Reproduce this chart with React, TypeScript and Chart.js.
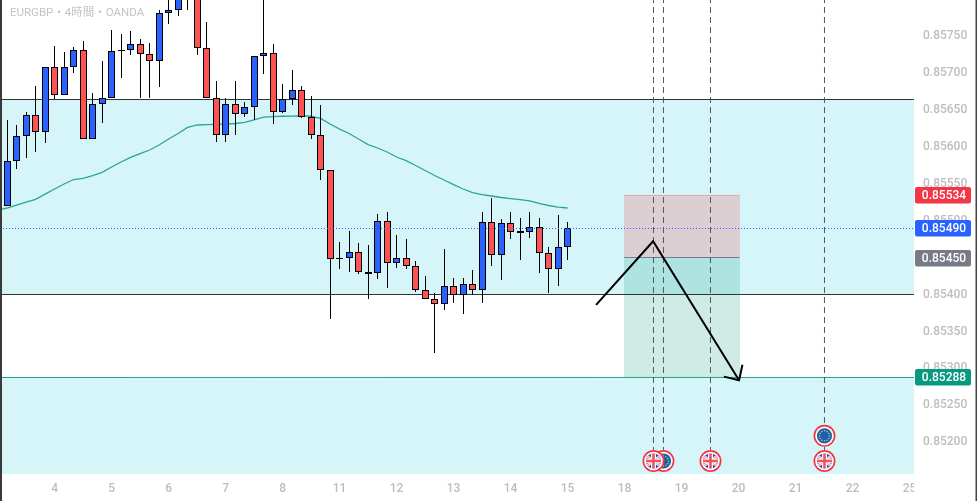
import React, { useEffect, useRef } from "react";
import { Chart, registerables, BarController } from "chart.js";

const opens = [0.8552,0.85581,0.85614,0.85642,0.85619,0.85708,0.85669,0.85707,0.85731,0.8561,0.85657,0.85665,0.85729,0.85731,0.85739,0.85725,0.85715,0.8578,0.85784,0.85825,0.85818,0.85733,0.85665,0.85616,0.85657,0.85644,0.85654,0.85722,0.85726,0.85646,0.85664,0.85677,0.8564,0.85615,0.85568,0.85448,0.8545,0.85458,0.8543,0.85429,0.85499,0.85442,0.8545,0.85439,0.85406,0.85394,0.85387,0.85412,0.854,0.85414,0.85406,0.85498,0.85454,0.85496,0.85486,0.85485,0.85491,0.85456,0.85434,0.85464];
const closes = [0.85581,0.85614,0.85642,0.85619,0.85708,0.85669,0.85707,0.85731,0.8561,0.85657,0.85665,0.85729,0.85731,0.85739,0.85725,0.85715,0.8578,0.85784,0.85809,0.85815,0.85733,0.85665,0.85616,0.85657,0.85644,0.85654,0.85722,0.85726,0.85646,0.85664,0.85677,0.8564,0.85615,0.85568,0.85448,0.8545,0.85458,0.8543,0.85428,0.85499,0.85442,0.8545,0.85439,0.85406,0.85394,0.85387,0.85412,0.854,0.85414,0.85406,0.85498,0.85454,0.85496,0.85484,0.85483,0.85491,0.85456,0.85434,0.85464,0.8549];
const highs = [0.85636,0.85629,0.85647,0.85682,0.85708,0.85736,0.85728,0.85735,0.85743,0.85672,0.85716,0.85757,0.85752,0.85756,0.85745,0.8574,0.85785,0.85811,0.85819,0.8583,0.85835,0.85768,0.85689,0.85665,0.85689,0.8566,0.85722,0.8581,0.85739,0.85685,0.85703,0.85682,0.85668,0.85656,0.85568,0.85471,0.85486,0.8547,0.85467,0.85509,0.85511,0.8548,0.85475,0.85445,0.85425,0.85402,0.85462,0.85422,0.85422,0.85433,0.85512,0.8553,0.85502,0.85512,0.85504,0.85512,0.85504,0.85464,0.85508,0.85498];
const lows = [0.8552,0.8557,0.85585,0.85593,0.85605,0.85664,0.85669,0.857,0.8561,0.8561,0.85632,0.85665,0.85693,0.85724,0.85666,0.85666,0.85681,0.85766,0.85777,0.85785,0.85723,0.85665,0.85606,0.85606,0.85615,0.8564,0.85636,0.85698,0.85631,0.85645,0.85656,0.85638,0.8561,0.85555,0.85367,0.85435,0.85431,0.85428,0.85394,0.85421,0.85409,0.85436,0.85434,0.85404,0.85394,0.85321,0.85379,0.85388,0.85373,0.854,0.85388,0.85439,0.8542,0.85475,0.85446,0.85477,0.85429,0.85402,0.85411,0.85447];
// Moving average: the first value sits one bar before the first candle.
const ema = [0.85514,0.855169,0.855209,0.85525,0.855286,0.855357,0.855426,0.855493,0.855554,0.85557,0.855608,0.855651,0.855723,0.855791,0.855854,0.855905,0.855953,0.85602,0.856101,0.856176,0.856259,0.856291,0.856297,0.8563,0.856304,0.856311,0.856326,0.856361,0.856396,0.856405,0.856409,0.856412,0.856416,0.856409,0.856381,0.856304,0.856236,0.856176,0.856101,0.856026,0.85598,0.855926,0.855858,0.855808,0.855743,0.855676,0.855608,0.855547,0.855486,0.855426,0.855378,0.855351,0.855331,0.855311,0.855295,0.855281,0.855264,0.85523,0.855203,0.855182,0.855169];

const dayTickIndex = [5,11,17,23,29,35,41,47,53,59,65,71,77,83,89,95];
const dayLabels = ["4","5","6","7","8","11","12","13","14","15","18","19","20","21","22","25"];
const priceTicks = [0.852,0.8525,0.853,0.8535,0.854,0.8545,0.855,0.8555,0.856,0.8565,0.857,0.8575];

const upperZone = [0.854, 0.856635];
const lowerZone = [0.851581, 0.852879];
const levels = [0.856635, 0.854];
const targetLevel = 0.852879;
const lastPriceLine = 0.854892;
const riskBox = [64.95, 77.1, 0.8545, 0.85534];
const rewardBox = [64.95, 77.1, 0.852879, 0.8545];
const pathX = [62, 68, 77.05];
const pathY = [0.85386, 0.85472, 0.85284];
const headX = [75.45, 77.05, 77.4];
const headY = [0.85289, 0.85284, 0.85305];
const eventIndex = [68.04, 69.09, 74.04, 86.04];
const eventTop = 0.85802;
const eventBottom = 0.8519;
const tagLabels = ["0.85534", "0.85490", "0.85450", "0.85288"];
const tagPrices = [0.85534, 0.85490, 0.8545, 0.85288];
const tagColors = ["#F23645", "#2962FF", "#787B86", "#089981"];
const titleText = "EURGBP・4時間・OANDA";

const FONT = 'Roboto, "Noto Sans CJK JP", sans-serif';
const GREY = "#BDBDBD";

class CrispBarController extends BarController {
  static id = "crispBar";
  static defaults = BarController.defaults;
  static overrides = BarController.overrides;
  updateElement(el: any, i: number, props: any, mode: any) {
    if (props.x !== undefined) props.x = Math.floor(props.x) + 0.5;
    if (props.y !== undefined && props.base !== undefined) {
      props.y = Math.round(props.y);
      props.base = Math.round(props.base);
      props.height = props.base - props.y;
    }
    super.updateElement(el, i, props, mode);
  }
}

Chart.register(...registerables, CrispBarController);

function ring(ctx: CanvasRenderingContext2D, x: number, y: number) {
  ctx.fillStyle = "#F23645";
  ctx.beginPath();
  ctx.arc(x, y, 11, 0, Math.PI * 2);
  ctx.fill();
  ctx.fillStyle = "#FFFFFF";
  ctx.beginPath();
  ctx.arc(x, y, 9.3, 0, Math.PI * 2);
  ctx.fill();
}

function ukIcon(ctx: CanvasRenderingContext2D, x: number, y: number) {
  ring(ctx, x, y);
  ctx.save();
  ctx.beginPath();
  ctx.arc(x, y, 7.6, 0, Math.PI * 2);
  ctx.clip();
  ctx.fillStyle = "#1F4FA8";
  ctx.fillRect(x - 9, y - 9, 18, 18);
  ctx.strokeStyle = "#FFFFFF";
  ctx.lineWidth = 2.4;
  ctx.beginPath();
  ctx.moveTo(x - 9, y - 7); ctx.lineTo(x + 9, y + 7);
  ctx.moveTo(x + 9, y - 7); ctx.lineTo(x - 9, y + 7);
  ctx.stroke();
  ctx.strokeStyle = "#F0525E";
  ctx.lineWidth = 0.9;
  ctx.stroke();
  ctx.fillStyle = "#FFFFFF";
  ctx.fillRect(x - 9, y - 2.5, 18, 5);
  ctx.fillRect(x - 2.5, y - 9, 5, 18);
  ctx.fillStyle = "#F0525E";
  ctx.fillRect(x - 9, y - 1.3, 18, 2.6);
  ctx.fillRect(x - 1.3, y - 9, 2.6, 18);
  ctx.restore();
}

function euIcon(ctx: CanvasRenderingContext2D, x: number, y: number) {
  ring(ctx, x, y);
  ctx.fillStyle = "#1C5FB0";
  ctx.beginPath();
  ctx.arc(x, y, 7.6, 0, Math.PI * 2);
  ctx.fill();
  ctx.fillStyle = "#D8C84A";
  for (let k = 0; k < 12; k++) {
    const a = (k * Math.PI) / 6;
    ctx.beginPath();
    ctx.arc(x + Math.cos(a) * 5, y + Math.sin(a) * 5, 0.75, 0, Math.PI * 2);
    ctx.fill();
  }
}

const decorPlugin = {
  id: "decor",
  beforeDatasetsDraw(chart: any) {
    const { ctx, scales: { x, y } } = chart;
    ctx.save();
    // the plot ends at x = 914: nothing of the time axis shows past it
    ctx.fillStyle = "#FFFFFF";
    ctx.fillRect(x.right, y.bottom, chart.width - x.right, chart.height - y.bottom);
    ctx.fillStyle = "#D6F5F8";
    for (const z of [upperZone, lowerZone]) {
      const t = Math.round(y.getPixelForValue(z[1]));
      const b = Math.round(y.getPixelForValue(z[0]));
      ctx.fillRect(x.left, t, x.width, b - t);
    }
    const box = (r: number[], color: string) => {
      const l = Math.round(x.getPixelForValue(r[0]));
      const rr = Math.round(x.getPixelForValue(r[1]));
      const t = Math.round(y.getPixelForValue(r[3]));
      const b = Math.round(y.getPixelForValue(r[2]));
      ctx.fillStyle = color;
      ctx.fillRect(l, t, rr - l, b - t);
    };
    box(riskBox, "rgba(242,54,69,0.2)");
    box(rewardBox, "rgba(8,153,129,0.2)");
    ctx.restore();
  },
  afterDatasetsDraw(chart: any) {
    const { ctx, scales: { x, y } } = chart;
    ctx.save();
    const px = eventIndex.map((i) => x.getPixelForValue(i));
    const bottomRow = y.getPixelForValue(0.85175);
    const upperRow = y.getPixelForValue(0.85209);
    euIcon(ctx, px[1], bottomRow);
    ukIcon(ctx, px[0], bottomRow);
    ukIcon(ctx, px[2], bottomRow);
    euIcon(ctx, px[3], upperRow);
    ukIcon(ctx, px[3], bottomRow);
    ctx.fillStyle = "#C4C4C4";
    ctx.font = "11.5px " + FONT;
    ctx.textAlign = "left";
    ctx.textBaseline = "middle";
    ctx.fillText(titleText, 10, 13);
    ctx.restore();
  },
  afterDraw(chart: any) {
    const { ctx, scales: { y } } = chart;
    ctx.save();
    tagPrices.forEach((p, i) => {
      const c = Math.round(y.getPixelForValue(p));
      ctx.fillStyle = tagColors[i];
      ctx.beginPath();
      ctx.roundRect(915, c - 8, 56, 16.5, 2);
      ctx.fill();
      ctx.fillStyle = "#FFFFFF";
      ctx.font = "500 12px " + FONT;
      ctx.textAlign = "center";
      ctx.textBaseline = "middle";
      ctx.fillText(tagLabels[i], 944, c + 0.5);
    });
    ctx.fillStyle = "#3A3A3A";
    ctx.fillRect(0, 0, 2, chart.height);
    ctx.fillStyle = "#444444";
    ctx.fillRect(975.5, 0, 1.5, chart.height);
    ctx.restore();
  },
};

function App() {
  const ref = useRef<HTMLCanvasElement>(null);
  useEffect(() => {
    const idx = opens.map((_, i) => i);
    const xMin = -0.7474;
    const xMax = 95.463;
    const flat = (price: number, from = xMin, to = xMax) => [
      { x: from, y: price },
      { x: to, y: price },
    ];
    const datasets: any[] = [
      ...levels.map((p) => ({
        type: "line", data: flat(p), borderColor: "#333333", borderWidth: 1, pointRadius: 0, order: 10,
      })),
      { type: "line", data: flat(targetLevel), borderColor: "#1F9E8C", borderWidth: 1, pointRadius: 0, order: 10 },
      { type: "line", data: flat(riskBox[3], riskBox[0], riskBox[1]), borderColor: "rgba(242,54,69,0.25)", borderWidth: 1, pointRadius: 0, order: 10 },
      { type: "line", data: flat(riskBox[2], riskBox[0], riskBox[1]), borderColor: "#787B86", borderWidth: 1, pointRadius: 0, order: 10 },
      {
        type: "line",
        data: ema.map((v, i) => ({ x: i - 1, y: v })),
        borderColor: "#2BA598", borderWidth: 1.3, pointRadius: 0, tension: 0, order: 9,
      },
      {
        type: "crispBar",
        data: idx.map((i) => ({ x: i, y: [lows[i], highs[i]] })),
        backgroundColor: "#000000", borderWidth: 0, barThickness: 1, grouped: false,
        borderSkipped: false, inflateAmount: 0, order: 5,
      },
      {
        type: "crispBar",
        data: idx.map((i) => ({ x: i, y: [Math.min(opens[i], closes[i]), Math.max(opens[i], closes[i])] })),
        backgroundColor: idx.map((i) => (closes[i] >= opens[i] ? "#2962FF" : "#FF5252")),
        borderColor: "#000000", borderWidth: 1, barThickness: 7, grouped: false,
        borderSkipped: false, inflateAmount: 0, order: 4,
      },
      { type: "line", data: flat(lastPriceLine), borderColor: "#2962FF", borderWidth: 1, borderDash: [1, 2], pointRadius: 0, order: 3 },
      ...eventIndex.map((i) => ({
        type: "line",
        data: [{ x: i, y: eventTop }, { x: i, y: eventBottom }],
        borderColor: "#555555", borderWidth: 1, borderDash: [6, 4], pointRadius: 0, order: 2,
      })),
      {
        type: "line",
        data: pathX.map((v, i) => ({ x: v, y: pathY[i] })),
        borderColor: "#000000", borderWidth: 2, pointRadius: 0, tension: 0, order: 1,
      },
      {
        type: "line",
        data: headX.map((v, i) => ({ x: v, y: headY[i] })),
        borderColor: "#000000", borderWidth: 2, pointRadius: 0, tension: 0, order: 1,
      },
    ];
    const noPad = (s: any) => {
      s.paddingTop = 0; s.paddingBottom = 0; s.paddingLeft = 0; s.paddingRight = 0;
    };
    const chart = new Chart(ref.current as HTMLCanvasElement, {
      type: "bar",
      data: { datasets },
      plugins: [decorPlugin],
      options: {
        animation: false,
        responsive: false,
        devicePixelRatio: 1,
        layout: { padding: 0, autoPadding: false },
        plugins: { legend: { display: false }, tooltip: { enabled: false }, title: { display: false } },
        events: [],
        scales: {
          x: {
            type: "linear",
            min: xMin,
            max: xMax,
            offset: false,
            grid: { display: false, drawTicks: false },
            border: { display: false },
            afterBuildTicks: (s: any) => { s.ticks = dayTickIndex.map((value) => ({ value })); },
            afterFit: (s: any) => { s.height = 27.5; noPad(s); },
            ticks: {
              autoSkip: false, maxRotation: 0, minRotation: 0, padding: 8, color: GREY,
              font: { family: FONT, size: 12, weight: 500 },
              callback: (v: any) => dayLabels[dayTickIndex.indexOf(Number(v))] ?? "",
            },
          },
          y: {
            type: "linear",
            position: "right",
            min: 0.851581,
            max: 0.85798,
            grid: { display: false, drawTicks: false },
            border: { display: false },
            afterBuildTicks: (s: any) => { s.ticks = priceTicks.map((value) => ({ value })); },
            afterFit: (s: any) => { s.width = 63; noPad(s); },
            ticks: {
              z: 1, padding: 9, color: GREY, autoSkip: false,
              font: { family: FONT, size: 12, weight: 500 },
              callback: (v: any) => Number(v).toFixed(5),
            },
          },
        },
      } as any,
    } as any);
    return () => chart.destroy();
  }, []);
  return (
    <div style={{ position: "absolute", left: 0, top: 0, width: 977, height: 501, background: "#FFFFFF" }}>
      <canvas ref={ref} width={977} height={501} style={{ display: "block" }} />
    </div>
  );
}

export default App;
